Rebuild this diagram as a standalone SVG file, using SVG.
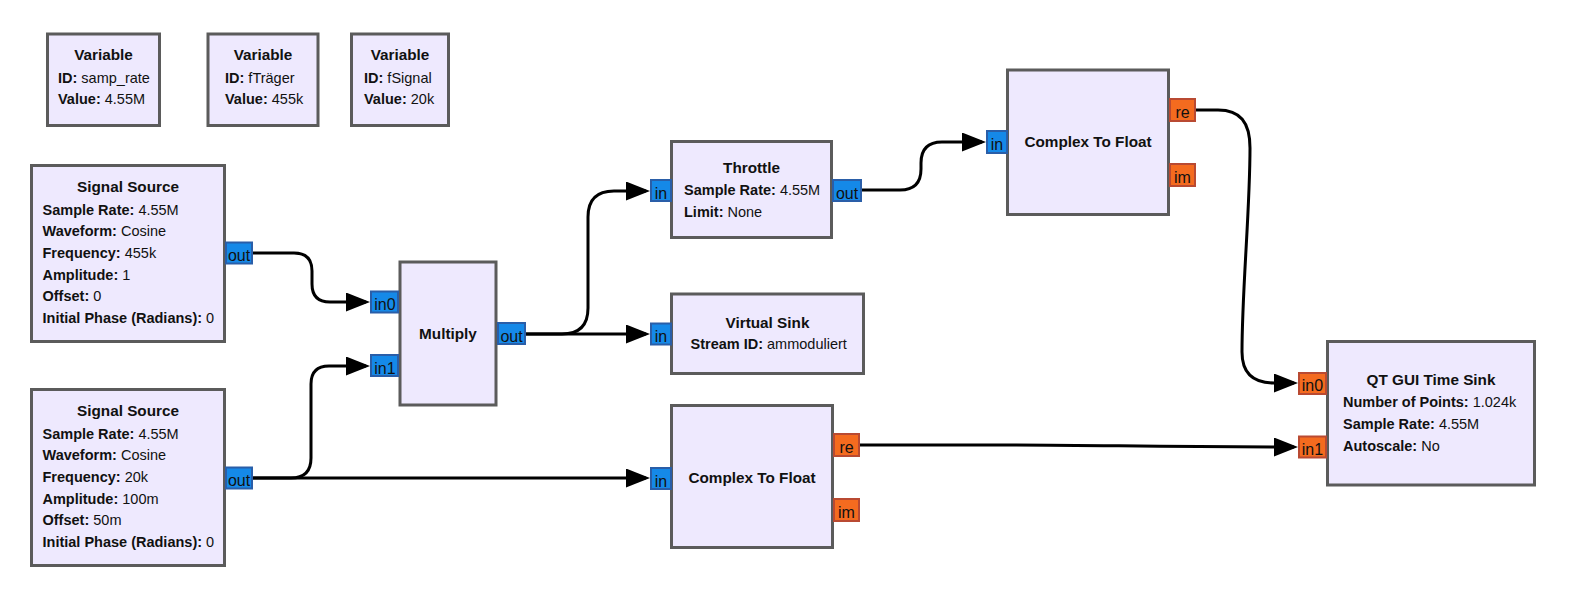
<svg xmlns="http://www.w3.org/2000/svg" width="1582" height="598" viewBox="0 0 1582 598">
<style>
.blk{fill:#EEE9FE;stroke:#5B5B5B;stroke-width:3}
.pi{fill:#1589E8;stroke:#2A5EA8;stroke-width:2}
.po{fill:#F46B1F;stroke:#B94A32;stroke-width:2}
.pt{font-family:"Liberation Sans",Arial,sans-serif;font-size:16px;fill:#111;text-anchor:middle}
.ti{font-family:"Liberation Sans",Arial,sans-serif;font-size:15.3px;font-weight:bold;fill:#111;text-anchor:middle}
.tx{font-family:"Liberation Sans",Arial,sans-serif;font-size:14.5px;fill:#111}
.b{font-weight:bold}
.c{fill:none;stroke:#000;stroke-width:3}
</style>
<defs>
<marker id="arr" markerUnits="userSpaceOnUse" markerWidth="24" markerHeight="19" viewBox="0 0 24 19" refX="20" refY="9.5" orient="auto">
<path d="M0,0 L24,9.5 L0,19 z" fill="#000"/>
</marker>
</defs>
<rect width="1582" height="598" fill="#fff"/>
<g id="connectors">
<path class="c" marker-end="url(#arr)" d="M253,253 H294 Q312,253 312,271 V284 Q312,302 330,302 H366"/>
<path class="c" marker-end="url(#arr)" d="M253,478 H291 Q311,478 311,458 V384 Q311,366 329,366 H366"/>
<path class="c" marker-end="url(#arr)" d="M253,478 H646"/>
<path class="c" marker-end="url(#arr)" d="M526,334 H562 Q588,334 588,308 V217 Q588,191 614,191 H646"/>
<path class="c" marker-end="url(#arr)" d="M526,334 H646"/>
<path class="c" marker-end="url(#arr)" d="M862,190 H900 Q921,190 921,169 V163 Q921,142 942,142 H982"/>
<path class="c" marker-end="url(#arr)" d="M1196,110 H1218 C1240,110 1250,122 1250,148 C1250,210 1242,290 1242,352 C1242,374 1254,383 1274,383 H1294"/>
<path class="c" marker-end="url(#arr)" d="M860,445 H1000 C1100,445 1150,447 1294,447"/>
</g>
<g id="var_samp_rate">
<rect class="blk" x="47.5" y="34" width="112" height="91.5"/>
<text class="ti" x="103.5" y="60">Variable</text>
<text class="tx" x="58" y="83.3"><tspan class="b">ID:</tspan> samp_rate</text>
<text class="tx" x="58" y="103.5"><tspan class="b">Value:</tspan> 4.55M</text>
</g>
<g id="var_ftraeger">
<rect class="blk" x="208" y="34" width="110" height="91.5"/>
<text class="ti" x="263" y="60">Variable</text>
<text class="tx" x="225" y="83.3"><tspan class="b">ID:</tspan> fTräger</text>
<text class="tx" x="225" y="103.5"><tspan class="b">Value:</tspan> 455k</text>
</g>
<g id="var_fsignal">
<rect class="blk" x="351.5" y="34" width="97" height="91.5"/>
<text class="ti" x="400" y="60">Variable</text>
<text class="tx" x="364" y="83.3"><tspan class="b">ID:</tspan> fSignal</text>
<text class="tx" x="364" y="103.5"><tspan class="b">Value:</tspan> 20k</text>
</g>
<g id="signal_source_1">
<rect class="blk" x="31.5" y="165.5" width="193" height="176"/>
<text class="ti" x="128" y="192">Signal Source</text>
<text class="tx" x="42.5" y="214.8"><tspan class="b">Sample Rate:</tspan> 4.55M</text>
<text class="tx" x="42.5" y="236.4"><tspan class="b">Waveform:</tspan> Cosine</text>
<text class="tx" x="42.5" y="258"><tspan class="b">Frequency:</tspan> 455k</text>
<text class="tx" x="42.5" y="279.6"><tspan class="b">Amplitude:</tspan> 1</text>
<text class="tx" x="42.5" y="301.2"><tspan class="b">Offset:</tspan> 0</text>
<text class="tx" x="42.5" y="322.8"><tspan class="b">Initial Phase (Radians):</tspan> 0</text>
<rect class="pi" x="226" y="242.5" width="26" height="21"/>
<text class="pt" x="239" y="261">out</text>
</g>
<g id="signal_source_2">
<rect class="blk" x="31.5" y="389.5" width="193" height="176"/>
<text class="ti" x="128" y="416">Signal Source</text>
<text class="tx" x="42.5" y="438.8"><tspan class="b">Sample Rate:</tspan> 4.55M</text>
<text class="tx" x="42.5" y="460.4"><tspan class="b">Waveform:</tspan> Cosine</text>
<text class="tx" x="42.5" y="482"><tspan class="b">Frequency:</tspan> 20k</text>
<text class="tx" x="42.5" y="503.6"><tspan class="b">Amplitude:</tspan> 100m</text>
<text class="tx" x="42.5" y="525.2"><tspan class="b">Offset:</tspan> 50m</text>
<text class="tx" x="42.5" y="546.8"><tspan class="b">Initial Phase (Radians):</tspan> 0</text>
<rect class="pi" x="226" y="467.5" width="26" height="21"/>
<text class="pt" x="239" y="486">out</text>
</g>
<g id="multiply">
<rect class="blk" x="400" y="262" width="96" height="143"/>
<text class="ti" x="448" y="339">Multiply</text>
<rect class="pi" x="371" y="291.5" width="27" height="21"/>
<text class="pt" x="385" y="310">in0</text>
<rect class="pi" x="371" y="355" width="27" height="21"/>
<text class="pt" x="385" y="373.5">in1</text>
<rect class="pi" x="498" y="323" width="27" height="21"/>
<text class="pt" x="511.5" y="341.5">out</text>
</g>
<g id="throttle">
<rect class="blk" x="671.5" y="141.5" width="160" height="96"/>
<text class="ti" x="751.5" y="172.7">Throttle</text>
<text class="tx" x="684" y="195"><tspan class="b">Sample Rate:</tspan> 4.55M</text>
<text class="tx" x="684" y="216.5"><tspan class="b">Limit:</tspan> None</text>
<rect class="pi" x="651" y="180" width="20" height="21"/>
<text class="pt" x="661" y="198.5">in</text>
<rect class="pi" x="833" y="180" width="28" height="21"/>
<text class="pt" x="847" y="198.5">out</text>
</g>
<g id="virtual_sink">
<rect class="blk" x="671.5" y="294" width="192" height="79.5"/>
<text class="ti" x="767.5" y="327.7">Virtual Sink</text>
<text class="tx" x="690.5" y="348.5"><tspan class="b">Stream ID:</tspan> ammoduliert</text>
<rect class="pi" x="651" y="323.5" width="20" height="21"/>
<text class="pt" x="661" y="342">in</text>
</g>
<g id="complex_to_float_2">
<rect class="blk" x="671.5" y="405.5" width="161" height="142"/>
<text class="ti" x="752" y="482.7">Complex To Float</text>
<rect class="pi" x="651" y="468" width="20" height="21"/>
<text class="pt" x="661" y="486.5">in</text>
<rect class="po" x="834" y="434" width="25" height="22"/>
<text class="pt" x="846.5" y="452.5">re</text>
<rect class="po" x="834" y="499" width="25" height="22"/>
<text class="pt" x="846.5" y="517.5">im</text>
</g>
<g id="complex_to_float_1">
<rect class="blk" x="1007.5" y="70" width="161" height="144.5"/>
<text class="ti" x="1088" y="146.7">Complex To Float</text>
<rect class="pi" x="987" y="131" width="20" height="22"/>
<text class="pt" x="997" y="150">in</text>
<rect class="po" x="1170" y="99" width="25" height="22"/>
<text class="pt" x="1182.5" y="117.5">re</text>
<rect class="po" x="1170" y="164" width="25" height="22"/>
<text class="pt" x="1182.5" y="182.5">im</text>
</g>
<g id="qt_gui_time_sink">
<rect class="blk" x="1327.5" y="341.5" width="207" height="143.5"/>
<text class="ti" x="1431" y="385">QT GUI Time Sink</text>
<text class="tx" x="1343" y="407"><tspan class="b">Number of Points:</tspan> 1.024k</text>
<text class="tx" x="1343" y="428.7"><tspan class="b">Sample Rate:</tspan> 4.55M</text>
<text class="tx" x="1343" y="450.5"><tspan class="b">Autoscale:</tspan> No</text>
<rect class="po" x="1299" y="373" width="27" height="21"/>
<text class="pt" x="1312.5" y="391">in0</text>
<rect class="po" x="1299" y="436.5" width="27" height="21"/>
<text class="pt" x="1312.5" y="454.5">in1</text>
</g>
</svg>
